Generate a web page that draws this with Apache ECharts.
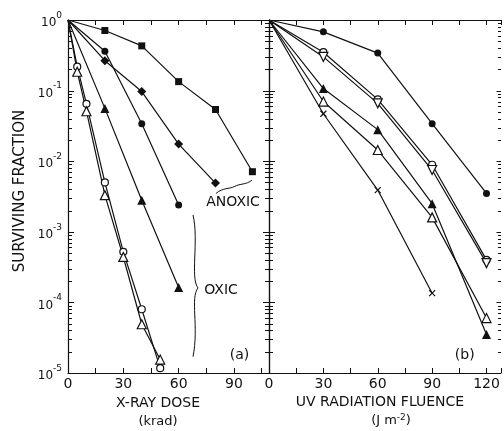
<!DOCTYPE html>
<html>
<head>
<meta charset="utf-8">
<script src="https://cdn.jsdelivr.net/npm/echarts@6/dist/echarts.min.js"></script>
<style>
html, body { margin: 0; padding: 0; background: #fff; }
#chart { width: 504px; height: 431px; }
</style>
</head>
<body>
<div id="chart"></div>
<script>
// (a) X-ray dose, krad
var doseSquare = [0, 20, 40, 60, 80, 100];
var anoxicSquare = [1, 0.71, 0.43, 0.134, 0.054, 0.0071];
var doseDiamond = [0, 20, 40, 60, 80];
var anoxicDiamond = [1, 0.265, 0.097, 0.0175, 0.0049];
var doseOxic = [0, 20, 40, 60];
var oxicCircle = [1, 0.36, 0.034, 0.0024];
var oxicTriangle = [1, 0.056, 0.0028, 0.000163];
var doseOpen = [0, 5, 10, 20, 30, 40, 50];
var oxicOpenCircle = [1, 0.218, 0.065, 0.005, 0.00052, 0.00008, 0.0000117];
var oxicOpenTriangle = [1, 0.185, 0.051, 0.0033, 0.00044, 0.000049, 0.0000155];

// (b) UV fluence, J m-2
var fluence = [0, 30, 60, 90, 120];
var uvCircle = [1, 0.68, 0.34, 0.034, 0.0035];
var uvOpenCircle = [1, 0.35, 0.075, 0.0089, 0.0004];
var uvInvTriangle = [1, 0.30, 0.066, 0.0075, 0.00036];
var uvTriangle = [1, 0.107, 0.028, 0.0025, 0.000035];
var uvOpenTriangle = [1, 0.07, 0.0144, 0.0016, 0.00006];
var fluenceCross = [0, 30, 60, 90];
var uvCross = [1, 0.047, 0.0039, 0.000135];

var xTicksA = [0, 30, 60, 90];
var xTicksB = [0, 30, 60, 90, 120];

var FONT = 'DejaVu Sans';
var INK = '#111';

// first point (the common origin at 0, 1) is drawn without a marker
function pairs(xs, ys) {
    return xs.map(function (x, i) {
        return i === 0 ? { value: [x, ys[i]], symbol: 'none' } : [x, ys[i]];
    });
}

function curve(xs, ys, symbol, size, open, xi, yi, rotate) {
    return {
        type: 'line',
        xAxisIndex: xi,
        yAxisIndex: yi,
        data: pairs(xs, ys),
        symbol: symbol,
        symbolSize: size,
        symbolRotate: rotate || 0,
        showAllSymbol: true,
        lineStyle: { color: INK, width: 1.2 },
        itemStyle: open
            ? { color: open === 'none' ? 'none' : '#fff', borderColor: INK, borderWidth: 1.2 }
            : { color: INK, borderColor: INK, borderWidth: 0 },
        z: 3
    };
}

// log minor ticks (2..9 in each decade) and decade ticks, drawn on an axis line
var yTicks = [];
for (var e = -5; e <= 0; e++) {
    yTicks.push([Math.pow(10, e), 1]);
    if (e < 0) {
        for (var k = 2; k <= 9; k++) yTicks.push([k * Math.pow(10, e), 0]);
    }
}

function tickSeries(xi, yi, xVal, left, right) {
    return {
        type: 'custom',
        xAxisIndex: xi,
        yAxisIndex: yi,
        silent: true,
        clip: false,
        z: 2,
        data: yTicks.map(function (t) { return [xVal, t[0], t[1]]; }),
        renderItem: function (params, api) {
            var p = api.coord([api.value(0), api.value(1)]);
            var major = api.value(2);
            var l = left * (major ? 1.5 : 1), r = right * (major ? 1.5 : 1);
            return {
                type: 'line',
                shape: { x1: p[0] - l, y1: Math.round(p[1]) + 0.5, x2: p[0] + r, y2: Math.round(p[1]) + 0.5 },
                style: { stroke: INK, lineWidth: 1 }
            };
        }
    };
}

function xAxis(grid, max, top) {
    return {
        type: 'value',
        gridIndex: grid,
        position: top ? 'top' : 'bottom',
        min: 0,
        max: max,
        interval: 15,
        splitLine: { show: false },
        axisLine: { lineStyle: { color: INK, width: 1.2 } },
        axisTick: { inside: true, length: 5, lineStyle: { color: INK } },
        axisLabel: top ? { show: false } : {
            margin: 4,
            fontFamily: FONT,
            fontSize: 14,
            color: INK,
            formatter: function (v) {
                var list = grid === 0 ? xTicksA : xTicksB;
                return list.indexOf(v) >= 0 ? String(v) : '';
            }
        }
    };
}

function yAxis(grid, pos, labels) {
    return {
        type: 'log',
        logBase: 10,
        gridIndex: grid,
        position: pos,
        min: 0.00001,
        max: 1,
        splitLine: { show: false },
        axisLine: { lineStyle: { color: INK, width: 1.2 } },
        axisTick: { show: false },
        axisLabel: labels ? {
            margin: 6,
            formatter: function (v) {
                return '{b|10}{e|' + Math.round(Math.log10(v)) + '}';
            },
            rich: {
                b: { fontFamily: FONT, fontSize: 12, color: INK, lineHeight: 18, verticalAlign: 'bottom' },
                e: { fontFamily: FONT, fontSize: 9, color: INK, lineHeight: 18, verticalAlign: 'top' }
            }
        } : { show: false }
    };
}

var chart = echarts.init(document.getElementById('chart'), null, { renderer: 'canvas' });

var option = {
    animation: false,
    backgroundColor: '#fff',
    grid: [
        { left: 68, top: 20, width: 201, height: 353 },
        { left: 269, top: 20, width: 233, height: 353 }
    ],
    xAxis: [xAxis(0, 109, false), xAxis(0, 109, true), xAxis(1, 128, false), xAxis(1, 128, true)],
    yAxis: [yAxis(0, 'left', true), yAxis(1, 'left', false), yAxis(1, 'right', false)],
    series: [
        tickSeries(0, 0, 0, 0, 4),
        tickSeries(2, 1, 0, 4, 4),
        tickSeries(2, 2, 128, 3, 0),

        curve(doseSquare, anoxicSquare, 'rect', 7, false, 0, 0),
        curve(doseDiamond, anoxicDiamond, 'diamond', 9, false, 0, 0),
        curve(doseOxic, oxicCircle, 'circle', 7, false, 0, 0),
        curve(doseOxic, oxicTriangle, 'triangle', 9, false, 0, 0),
        curve(doseOpen, oxicOpenCircle, 'circle', 7, true, 0, 0),
        curve(doseOpen, oxicOpenTriangle, 'triangle', 9, true, 0, 0),

        curve(fluence, uvCircle, 'circle', 7, false, 2, 1),
        curve(fluence, uvOpenCircle, 'circle', 7, true, 2, 1),
        curve(fluence, uvInvTriangle, 'triangle', 9, true, 2, 1, 180),
        curve(fluence, uvTriangle, 'triangle', 9, false, 2, 1),
        curve(fluence, uvOpenTriangle, 'triangle', 9, true, 2, 1),
        curve(fluenceCross, uvCross, 'path://M0,0L10,10M10,0L0,10', 6, 'none', 2, 1)
    ]
};
chart.setOption(option);

// annotations, anchored in data units of panel (a) / (b)
function pa(x, y) { return chart.convertToPixel({ gridIndex: 0 }, [x, y]); }
function pb(x, y) { return chart.convertToPixel({ gridIndex: 1 }, [x, y]); }

function txt(p, s, size, extra) {
    var o = {
        type: 'text', x: p[0], y: p[1], z: 10,
        style: { text: s, fontFamily: FONT, fontSize: size, fill: INK, align: 'center', verticalAlign: 'middle' }
    };
    for (var key in extra) o[key] = extra[key];
    return o;
}

function bez(a, c1, c2, b) {
    return {
        type: 'bezierCurve', z: 10,
        shape: { x1: a[0], y1: a[1], cpx1: c1[0], cpy1: c1[1], cpx2: c2[0], cpy2: c2[1], x2: b[0], y2: b[1] },
        style: { stroke: INK, lineWidth: 1, fill: null }
    };
}

var anoxL = pa(80.3, 0.0035), anoxT = pa(90.5, 0.0044), anoxR = pa(99.8, 0.0054);
var oxTop = pa(67.8, 0.00173), oxTip = pa(70.5, 0.00016), oxBot = pa(67.8, 0.000017);

chart.setOption({
    graphic: [
        bez(anoxL, [anoxL[0] + 7, anoxL[1] - 6], [anoxT[0] - 6, anoxT[1] + 3], anoxT),
        bez(anoxT, [anoxT[0] + 5, anoxT[1] - 3], [anoxR[0] - 6, anoxR[1] + 5], anoxR),
        bez(oxTop, [oxTop[0] + 6, oxTop[1] + 25], [oxTip[0] - 8, oxTip[1] - 10], oxTip),
        bez(oxTip, [oxTip[0] - 8, oxTip[1] + 10], [oxBot[0] + 6, oxBot[1] - 30], oxBot),
        txt(pa(89.5, 0.0026), 'ANOXIC', 14),
        txt(pa(83, 0.000148), 'OXIC', 14),
        txt(pa(93, 0.0000175), '(a)', 14),
        txt(pb(108, 0.0000175), '(b)', 14),
        txt([158, 403], 'X-RAY DOSE', 14),
        txt([158, 422], '(krad)', 13),
        txt([380, 402], 'UV RADIATION FLUENCE', 14),
        {
            type: 'text', x: 391, y: 421, z: 10,
            style: {
                text: '(J m{s|-2})', fontFamily: FONT, fontSize: 13, fill: INK, align: 'center', verticalAlign: 'middle',
                rich: { s: { fontFamily: FONT, fontSize: 9, fill: INK, verticalAlign: 'top', lineHeight: 16 } }
            }
        },
        txt([20, 191], 'SURVIVING FRACTION', 15, { rotation: Math.PI / 2 })
    ]
});
</script>
</body>
</html>
